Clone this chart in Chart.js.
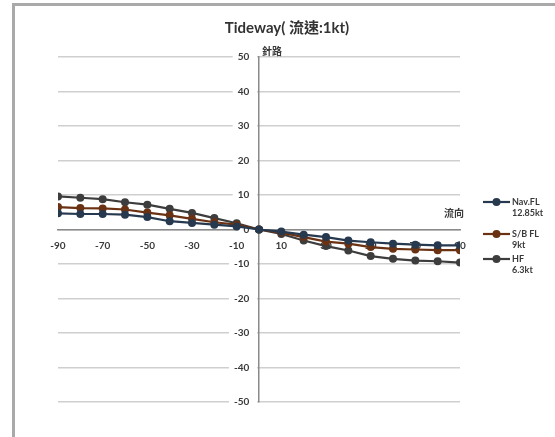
<!DOCTYPE html>
<html>
<head>
<meta charset="utf-8">
<script src="https://cdn.jsdelivr.net/npm/chart.js@4.4.0/dist/chart.umd.min.js"></script>
<style>
    html, body { margin: 0; padding: 0; background: #fff; }
    #wrap { position: relative; width: 555px; height: 437px; overflow: hidden; }
    #frame { position: absolute; left: 12px; top: 3px; width: 700px; height: 600px;
             border: 3px solid #a9a9a9; pointer-events: none; }
    #wrap canvas { position: absolute; left: 0; top: 0; }
</style>
</head>
<body>
<div id="wrap">
    <div id="frame"></div>
    <canvas id="chart"></canvas>
</div>
<script>
// === Dữ liệu ===
const angles = [-90, -80, -70, -60, -50, -40, -30, -20, -10, 0, 10, 20, 30, 40, 50, 60, 70, 80, 90];
const navFL = [4.7, 4.5, 4.5, 4.3, 3.6, 2.4, 1.9, 1.4, 0.9, 0, -0.6, -1.5, -2.2, -3.2, -3.7, -4.1, -4.4, -4.6, -4.6];
const sbFL = [6.5, 6.2, 6.1, 5.8, 4.9, 4.1, 3.1, 2.1, 1.4, 0, -0.9, -2.2, -3.5, -4.1, -5.1, -5.6, -5.8, -6.0, -6.0];
const hf = [9.6, 9.2, 8.8, 7.9, 7.2, 6.0, 4.8, 3.3, 1.8, 0, -1.3, -3.2, -4.8, -6.1, -7.7, -8.5, -9.0, -9.2, -9.6];
const xTicks = [-90, -70, -50, -30, -10, 10, 30, 50, 70, 90];
const yTicks = [-50, -40, -30, -20, -10, 0, 10, 20, 30, 40, 50];
const seriesNames = ['Nav.FL', 'S/B FL', 'HF'];
const seriesSpeeds = ['12.85kt', '9kt', '6.3kt'];
const seriesColors = ['#27394f', '#6a3213', '#3d3d3d'];

const textColor = '#3a3a3a';
const numFont = { family: 'Lato, "Open Sans", sans-serif', size: 10, weight: 'bold' };

const toPoints = (vals) => angles.map((a, i) => ({ x: a, y: vals[i] }));

const datasets = [navFL, sbFL, hf].map((vals, i) => ({
    label: seriesNames[i],
    data: toPoints(vals),
    borderColor: seriesColors[i],
    backgroundColor: seriesColors[i],
    borderWidth: 2.2,
    pointRadius: 4,
    pointBorderWidth: 0,
    tension: 0
}));

// Vẽ tiêu đề, nhãn trục và chú giải
const annotations = {
    id: 'annotations',
    afterDraw(chart) {
        const ctx = chart.ctx;
        const cjk = '"Noto Sans CJK TC", "Noto Sans CJK JP", sans-serif';
        ctx.save();
        ctx.fillStyle = '#333';
        ctx.textBaseline = 'middle';
        ctx.textAlign = 'center';
        ctx.font = 'bold 15px Lato, ' + cjk;
        ctx.fillText('Tideway( 流速:1kt)', 287, 28);

        ctx.font = 'bold 10px ' + cjk;
        ctx.fillStyle = textColor;
        ctx.textAlign = 'left';
        ctx.fillText('針路', 262, 51);
        ctx.fillText('流向', 444, 213);

        // chú giải
        const rowY = [202, 234, 259];
        chart.data.datasets.forEach((ds, i) => {
            const y = rowY[i];
            ctx.strokeStyle = ds.borderColor;
            ctx.lineWidth = 2.2;
            ctx.beginPath();
            ctx.moveTo(483, y);
            ctx.lineTo(510, y);
            ctx.stroke();
            ctx.fillStyle = ds.borderColor;
            ctx.beginPath();
            ctx.arc(496.5, y, 4, 0, Math.PI * 2);
            ctx.fill();
            ctx.fillStyle = textColor;
            ctx.font = 'bold 9px Lato, sans-serif';
            ctx.fillText(seriesNames[i], 512, y);
            ctx.fillText(seriesSpeeds[i], 512, y + 11);
        });
        ctx.restore();
    }
};

new Chart(document.getElementById('chart'), {
    type: 'line',
    data: { datasets },
    options: {
        responsive: true,
        maintainAspectRatio: false,
        animation: false,
        layout: { padding: { left: 58, right: 95, top: 57, bottom: 35 } },
        plugins: {
            legend: { display: false },
            title: { display: false },
            tooltip: { enabled: false }
        },
        scales: {
            x: {
                type: 'linear',
                position: { y: 0 },
                min: -90,
                max: 90,
                afterBuildTicks: (axis) => { axis.ticks = xTicks.map(v => ({ value: v })); },
                grid: { display: false, drawTicks: false },
                border: { display: true, color: '#8a8a8a', width: 1.5 },
                ticks: { color: textColor, font: numFont, padding: 10, autoSkip: false, maxRotation: 0 }
            },
            y: {
                type: 'linear',
                position: { x: 0 },
                min: -50,
                max: 50,
                afterBuildTicks: (axis) => { axis.ticks = yTicks.map(v => ({ value: v })); },
                grid: { color: '#cfcfcf', lineWidth: 1.5, drawTicks: false },
                border: { display: true, color: '#8a8a8a', width: 1.5 },
                ticks: {
                    color: textColor, font: numFont, padding: 0,
                    // khoảng trống bên phải để nhãn tách khỏi trục
                    callback: (v) => v + '    ',
                    showLabelBackdrop: true, backdropColor: '#fff',
                    backdropPadding: { left: 5, right: -2, top: 0, bottom: 0 }
                }
            }
        }
    },
    plugins: [annotations]
});
</script>
</body>
</html>
